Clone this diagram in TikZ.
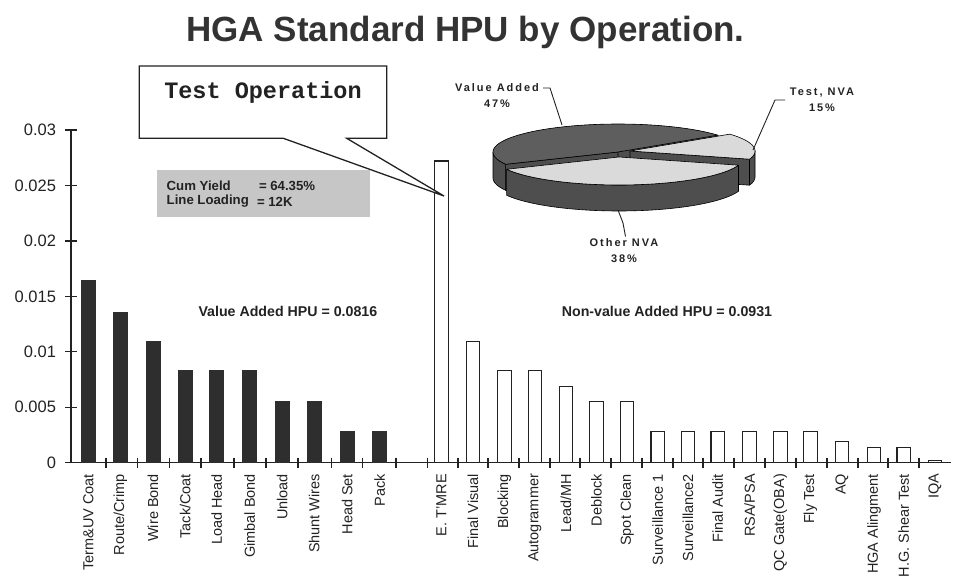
\documentclass[tikz,border=0pt]{standalone}
\usepackage{fontspec}
\setmainfont{Liberation Sans}
\newfontfamily\calloutfont{Liberation Mono}
\newfontfamily\piefont[LetterSpace=18]{Liberation Sans}

\definecolor{inkcol}{HTML}{222222}
\definecolor{titlecol}{HTML}{333333}
\definecolor{barfill}{HTML}{2E2E2E}
\definecolor{boxgray}{HTML}{C6C6C6}
\definecolor{piewall}{HTML}{4E4E4E}
\definecolor{piedark}{HTML}{5E5E5E}
\definecolor{pielight}{HTML}{DADADA}

\tikzset{
  every node/.style={inner sep=0pt, outer sep=0pt, text=inkcol},
  vabar/.style={fill=barfill, draw=barfill, line width=0.8pt},
  nvabar/.style={fill=white, draw=inkcol, line width=1.1pt},
  axisline/.style={draw=inkcol, line width=1.4pt},
  ticklabel/.style={anchor=east, font=\fontsize{16.5}{18}\selectfont},
  catlabel/.style={rotate=90, anchor=east, font=\fontsize{14.5}{16}\selectfont},
  hpulabel/.style={font=\fontsize{14.2}{16}\bfseries\selectfont},
  pielabel/.style={align=center, font=\fontsize{11}{16}\piefont\bfseries\selectfont},
  leader/.style={draw=inkcol, line width=0.9pt},
  pieedge/.style={draw=black, line width=0.6pt, line join=round},
}

\begin{document}
\begin{tikzpicture}[x=1pt, y=-1pt]
  \useasboundingbox (0,0) rectangle (971,578);

  % title
  \node[text=titlecol, font=\fontsize{35}{40}\bfseries\selectfont] (title) at (465.5,32) {HGA Standard HPU by Operation.};

  % axes
  \coordinate (origin) at (71,462.7);
  \coordinate (ytop) at (71,130);
  \coordinate (xend) at (950.5,462.7);
  \draw[axisline] (ytop) -- (origin) -- (xend);

  % y ticks and labels
  \foreach \v/\lbl [count=\k from 0] in {0/0, 0.005/0.005, 0.01/0.01, 0.015/0.015, 0.02/0.02, 0.025/0.025, 0.03/0.03} {
    \draw[axisline, line width=1.2pt] (65,{462.7-\k*55.45}) -- (77,{462.7-\k*55.45});
    \node[ticklabel] (ylab\k) at (56,{462.7-\k*55.45}) {\lbl};
  }

  % x ticks between categories
  \foreach \tx in {106,137.7,169.3,201,234,266,298,331.7,362.7,396,427.7,458,488,519,550,580,611,642,673,703,734,765,796,827,858,888,919} {
    \draw[axisline, line width=1.2pt] (\tx,457.5) -- (\tx,468);
  }

  % value-added bars
  \foreach \cx/\v in {88.3/0.0164, 120.3/0.0136, 153/0.0109, 185.2/0.0083, 216.8/0.0083, 249.7/0.0083, 282.2/0.0055, 314.2/0.0055, 347.3/0.0028, 379.7/0.0028} {
    \filldraw[vabar] (\cx-7,462.7) rectangle (\cx+7,{462.7-\v*11090});
  }

  % non-value-added bars
  \foreach \cx/\v in {441.3/0.0272, 473/0.0109, 504.3/0.0083, 535/0.0083, 566/0.0069, 596.5/0.0055, 627/0.0055, 657.8/0.0028, 688/0.0028, 717.8/0.0028, 749.7/0.0028, 780.3/0.0028, 810.3/0.0028, 842/0.0019, 874/0.0014, 903.8/0.0014, 935/0.0002} {
    \filldraw[nvabar] (\cx-6.8,462.7) rectangle (\cx+6.8,{462.7-\v*11090});
  }

  % category labels
  \foreach \cx/\lbl [count=\k] in {88.3/{Term\&UV Coat}, 120.3/{Route/Crimp}, 153/{Wire Bond}, 185.2/{Tack/Coat}, 216.8/{Load Head}, 249.7/{Gimbal Bond}, 282.2/{Unload}, 314.2/{Shunt Wires}, 347.3/{Head Set}, 379.7/{Pack},
      441.3/{E. T'MRE}, 473/{Final Visual}, 504.3/{Blocking}, 535/{Autogrammer}, 566/{Lead/MH}, 596.5/{Deblock}, 627/{Spot Clean}, 657.8/{Surveillance 1}, 688/{Surveillance2}, 717.8/{Final Audit}, 749.7/{RSA/PSA}, 780.3/{QC Gate(OBA)}, 810.3/{Fly Test}, 842/{AQ}, 874/{HGA Alingment}, 903.8/{H.G. Shear Test}, 935/{IQA}} {
    \node[catlabel] (cat\k) at (\cx,474) {\lbl};
  }

  % HPU totals
  \node[hpulabel] (vahpu) at (287.9,311.7) {Value Added HPU = 0.0816};
  \node[hpulabel] (nvahpu) at (667,311.7) {Non-value Added HPU = 0.0931};

  % yield / loading box
  \node[fill=boxgray, minimum width=213pt, minimum height=47pt] (infobox) at (263.5,193.5) {};
  \begin{scope}[every node/.style={inner sep=0pt, outer sep=0pt, text=inkcol, anchor=west, font=\fontsize{13.2}{15}\bfseries\selectfont}]
    \node (cumlbl) at (166.7,185.5) {Cum Yield};
    \node (cumval) at (259,185.5) {= 64.35\%};
    \node (loadlbl) at (166.7,201.5) {Line Loading};
    \node (loadval) at (257,201.5) {= 12K};
  \end{scope}

  % callout pointing at the E.T'MRE bar
  \coordinate (calltip) at (444,196);
  \draw[fill=white, draw=inkcol, line width=1.3pt, line join=miter]
    (139.3,66) -- (386.7,66) -- (386.7,138.3) -- (346.7,138.3) -- (calltip) -- (283.3,138.3) -- (139.3,138.3) -- cycle;
  \node[font=\fontsize{23.5}{26}\calloutfont\bfseries\selectfont] (calltext) at (263,92) {Test Operation};

  % 3-D pie chart
  \begin{scope}[shift={(618,152)}, y=1pt]
    \def\rx{125}\def\ry{28}\def\dp{26}
    % dark body behind the slices, so the cuts between them read as solid
    \fill[piewall] plot[domain=0:180, samples=40] ({\rx*cos(\x)},{\ry*sin(\x)}) -- plot[domain=180:360, samples=40] ({\rx*cos(\x)},{\ry*sin(\x)-\dp}) -- cycle;
    % Value Added (back slice): 37 -> 206
    \filldraw[pieedge, fill=piewall] (0,0) -- ({\rx*cos(206)},{\ry*sin(206)}) -- ({\rx*cos(206)},{\ry*sin(206)-\dp}) -- (0,-\dp) -- cycle;
    \filldraw[pieedge, fill=piewall] plot[domain=180:206, samples=12] ({\rx*cos(\x)},{\ry*sin(\x)}) -- plot[domain=206:180, samples=12] ({\rx*cos(\x)},{\ry*sin(\x)-\dp}) -- cycle;
    \filldraw[pieedge, fill=piedark] (0,0) -- plot[domain=37:206, samples=60] ({\rx*cos(\x)},{\ry*sin(\x)}) -- cycle;
    % Test, NVA (exploded to the right): -17 -> 37
    \begin{scope}[shift={(12,1)}]
      \filldraw[pieedge, fill=piewall] (0,0) -- ({\rx*cos(-17)},{\ry*sin(-17)}) -- ({\rx*cos(-17)},{\ry*sin(-17)-\dp}) -- (0,-\dp) -- cycle;
      \filldraw[pieedge, fill=piewall] plot[domain=-17:0, samples=10] ({\rx*cos(\x)},{\ry*sin(\x)}) -- plot[domain=0:-17, samples=10] ({\rx*cos(\x)},{\ry*sin(\x)-\dp}) -- cycle;
      \filldraw[pieedge, fill=pielight] (0,0) -- plot[domain=-17:37, samples=30] ({\rx*cos(\x)},{\ry*sin(\x)}) -- cycle;
    \end{scope}
    % Other NVA (front slice, pulled slightly forward): 206 -> 343
    \begin{scope}[shift={(1,-5)}]
      \filldraw[pieedge, fill=piewall] plot[domain=206:343, samples=60] ({\rx*cos(\x)},{\ry*sin(\x)}) -- plot[domain=343:206, samples=60] ({\rx*cos(\x)},{\ry*sin(\x)-\dp}) -- cycle;
      \filldraw[pieedge, fill=pielight] (0,0) -- plot[domain=206:343, samples=60] ({\rx*cos(\x)},{\ry*sin(\x)}) -- cycle;
    \end{scope}
  \end{scope}

  % pie labels and leaders
  \node[pielabel] (pieva) at (497,96) {Value Added\\47\%};
  \node[pielabel] (pietest) at (822,100) {Test, NVA\\15\%};
  \node[pielabel] (pieother) at (624,250.5) {Other NVA\\38\%};
  \coordinate (vaend) at (562,125);
  \coordinate (testend) at (753,150);
  \coordinate (otherend) at (618,210);
  \draw[leader] (543,88) -- (550,88) -- (vaend);
  \draw[leader] (785,100) -- (775,100) -- (testend);
  \draw[leader] (otherend) -- (623,223) -- (625.5,236.5);
\end{tikzpicture}
\end{document}
